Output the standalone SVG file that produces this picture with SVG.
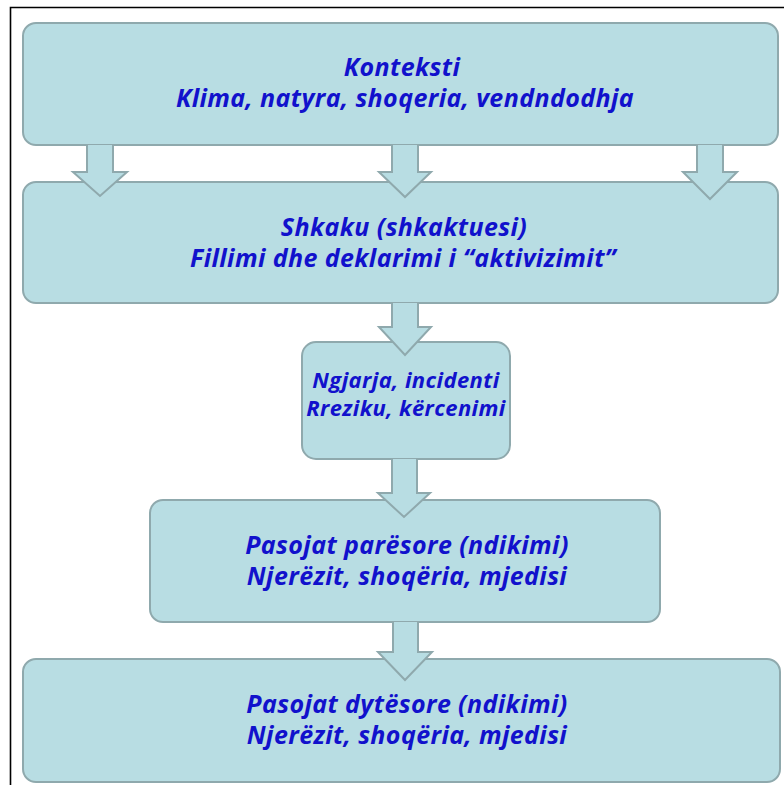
<svg xmlns="http://www.w3.org/2000/svg" width="784" height="785" viewBox="0 0 784 785">
<style>
.box{fill:#b8dde3;stroke:#8fa9ad;stroke-width:2}
.arr{fill:#b8dde3;stroke:#8fa9ad;stroke-width:2;stroke-linejoin:miter}
.t{font-family:"Open Sans","Noto Sans","DejaVu Sans",sans-serif;font-weight:bold;font-style:italic;font-size:25px;letter-spacing:0.4px;fill:#1111cc;text-anchor:middle}
.s{font-size:22px}
</style>
<rect x="0" y="0" width="784" height="785" fill="#ffffff"/>
<path d="M10.5 785 V7.5 H784" fill="none" stroke="#000" stroke-width="1.6"/>
<g id="n1"><rect class="box" x="23" y="23" width="755" height="122" rx="13"/>
<text class="t" x="402" y="76">Konteksti</text>
<text class="t" x="405" y="107">Klima, natyra, shoqeria, vendndodhja</text></g>
<g id="n2"><rect class="box" x="23" y="182" width="755" height="121" rx="13"/>
<text class="t" x="404" y="236">Shkaku (shkaktuesi)</text>
<text class="t" x="403" y="267">Fillimi dhe deklarimi i “aktivizimit”</text></g>
<g id="n3"><rect class="box" x="302" y="342" width="208" height="117" rx="14"/>
<text class="t s" x="406" y="388">Ngjarja, incidenti</text>
<text class="t s" x="406" y="416">Rreziku, kërcenimi</text></g>
<g id="n4"><rect class="box" x="150" y="500" width="510" height="122" rx="13"/>
<text class="t" x="407" y="554">Pasojat parësore (ndikimi)</text>
<text class="t" x="407" y="585">Njerëzit, shoqëria, mjedisi</text></g>
<g id="n5"><rect class="box" x="23" y="659" width="757" height="123" rx="13"/>
<text class="t" x="407" y="713">Pasojat dytësore (ndikimi)</text>
<text class="t" x="407" y="744">Njerëzit, shoqëria, mjedisi</text></g>
<g id="connectors">
<path class="arr" d="M87 145 V172 H73 L100 196 L127 172 H113 V145"/>
<path class="arr" d="M392 145 V172 H379 L405 197 L431 172 H418 V145"/>
<path class="arr" d="M697 145 V172 H683 L710 199 L737 172 H723 V145"/>
<path class="arr" d="M392 303 V327 H379 L405 355 L431 327 H418 V303"/>
<path class="arr" d="M392 459 V493 H378 L404 517 L430 493 H417 V459"/>
<path class="arr" d="M393 622 V652 H378 L405 680 L432 652 H418 V622"/>
</g>
</svg>
